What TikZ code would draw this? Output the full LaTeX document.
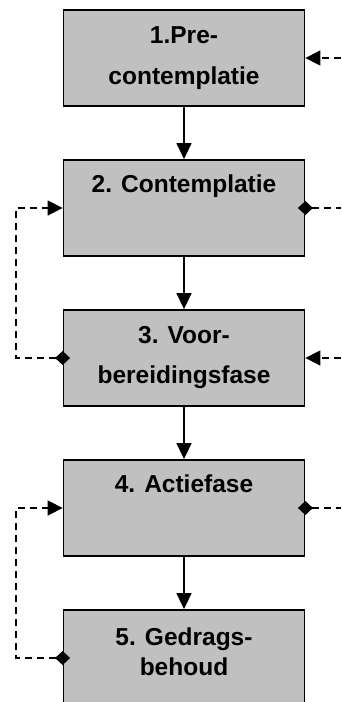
\documentclass[tikz,border=0pt]{standalone}
\usepackage{fontspec}
\setmainfont{Liberation Sans}
\usetikzlibrary{arrows.meta,calc}
\begin{document}
\begin{tikzpicture}[x=1pt,y=-1pt,
  stage/.style={draw=black,line width=1.8pt,fill={rgb,255:red,192;green,192;blue,192},
    minimum width=241pt,minimum height=96pt,inner sep=0pt},
  lbl/.style={font=\fontsize{24.5}{25}\selectfont\bfseries,anchor=base,inner sep=0pt},
  flow/.style={line width=1.6pt,-{Triangle[length=16pt,width=15pt]}},
  fb/.style={line width=1.6pt,dash pattern=on 7pt off 5pt},
  tipin/.style={-{Triangle[length=15pt,width=15pt]}},
  dia/.style={{Diamond[length=15pt,width=14pt]}-},
  diatip/.style={{Diamond[length=15pt,width=14pt]}-{Triangle[length=15pt,width=15pt]}}
]
\useasboundingbox (0,0) rectangle (341,702);
\clip (0,0) rectangle (341,702);
\coordinate (R) at (341,0);
\coordinate (L) at (16,0);
\node[stage] (b1) at (184,58) {};
\node[stage] (b2) at (184,208) {};
\node[stage] (b3) at (184,358) {};
\node[stage] (b4) at (184,508) {};
\node[stage] (b5) at (184,658) {};
\node[lbl] (t1a) at (184,43.3) {1.Pre-};
\node[lbl] (t1b) at (184,84) {contemplatie};
\node[lbl] (t2) at (184,192.7) {2. Contemplatie};
\node[lbl] (t3a) at (184,343.3) {3. Voor-};
\node[lbl] (t3b) at (184,383.3) {bereidingsfase};
\node[lbl] (t4) at (184,492.3) {4. Actiefase};
\node[lbl] (t5a) at (184,645) {5. Gedrags-};
\node[lbl] (t5b) at (184,675) {behoud};
\draw[flow] (b1.south) -- (b2.north);
\draw[flow] (b2.south) -- (b3.north);
\draw[flow] (b3.south) -- (b4.north);
\draw[flow] (b4.south) -- (b5.north);
% right side
\draw[fb,tipin] (b1.east -| R) -- (b1.east);
\draw[fb,dia] ($(b2.east)+(-7.5,0)$) -- (b2.east -| R);
\draw[fb,tipin] (b3.east -| R) -- (b3.east);
\draw[fb,dia] ($(b4.east)+(-7.5,0)$) -- (b4.east -| R);
% left loops
\draw[fb,diatip] ($(b3.west)+(7.5,0)$) -- (b3.west -| L) -- (b2.west -| L) -- (b2.west);
\draw[fb,diatip] ($(b5.west)+(7.5,0)$) -- (b5.west -| L) -- (b4.west -| L) -- (b4.west);
\end{tikzpicture}
\end{document}
